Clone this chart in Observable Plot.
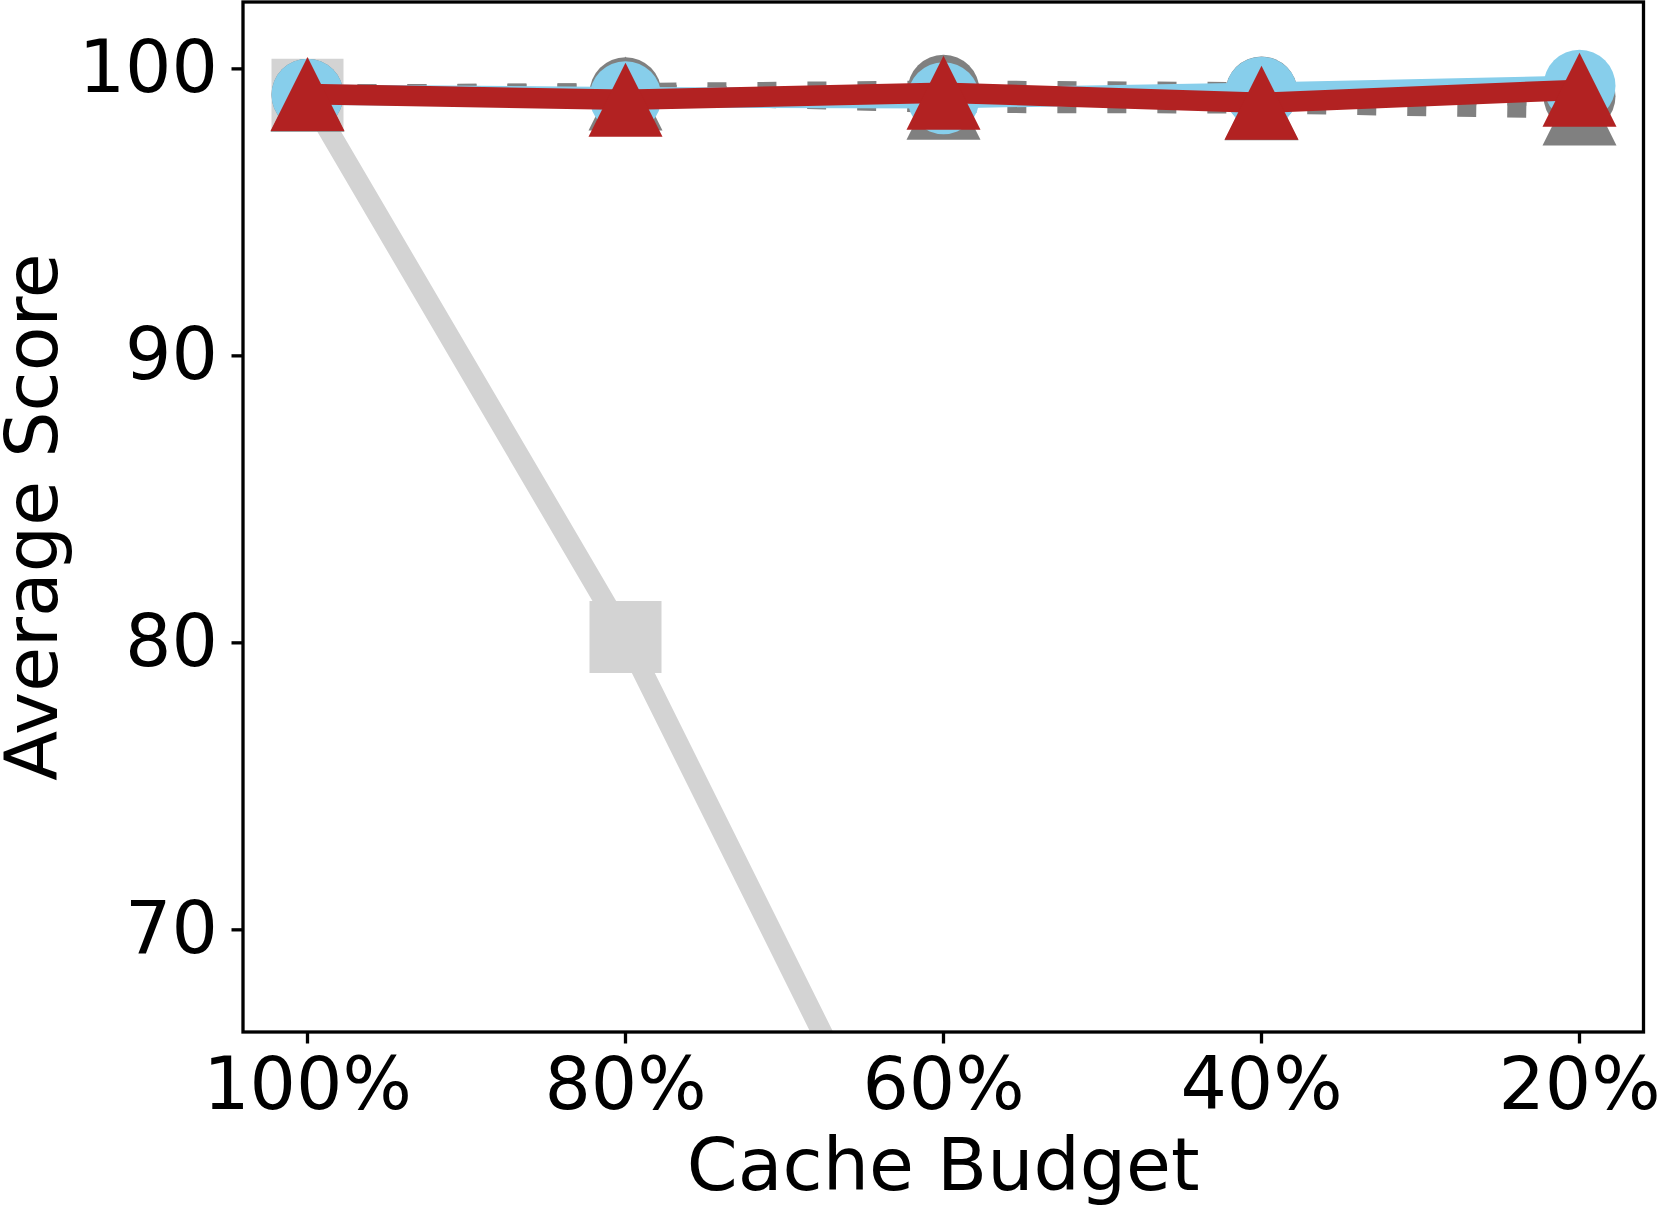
<!DOCTYPE html>
<html>
<head>
<meta charset="utf-8">
<script src="https://cdn.jsdelivr.net/npm/d3@7"></script>
<script src="https://cdn.jsdelivr.net/npm/@observablehq/plot@0.6"></script>
<style>
  html, body { margin: 0; padding: 0; background: #ffffff; }
  #chart { width: 1661px; height: 1207px; }
</style>
</head>
<body>
<div id="chart"></div>
<script>
// ---- data ----
const budgets = ["100%", "80%", "60%", "40%", "20%"];
const yTicks = [70, 80, 90, 100];
const fullCacheScores = [99.1, 80.2, 57.9, null, null];      // light gray, squares
const grayCircleScores = [99.1, 99.15, 99.24, 99.18, 99.05];  // gray dotted, circles
const grayTriangleScores = [99.1, 99.14, 98.82, 98.8, 98.62]; // gray dotted, triangles
const blueScores = [99.1, 99.01, 98.98, 99.17, 99.41];        // skyblue, circles
const redScores = [99.12, 98.92, 99.17, 98.82, 99.27];        // firebrick, triangles
const xLabel = "Cache Budget";
const yLabel = "Average Score";

const rows = (vals) => budgets.map((b, i) => ({budget: b, score: vals[i]}));

// matplotlib-like marker shapes (bbox centred)
const triangleUp = {draw(ctx, size) {
  const h = Math.sqrt(size / Math.PI);
  ctx.moveTo(0, -h); ctx.lineTo(h, h); ctx.lineTo(-h, h); ctx.closePath();
}};
const squareSym = {draw(ctx, size) {
  const h = Math.sqrt(size / Math.PI);
  ctx.moveTo(-h, -h); ctx.lineTo(h, -h); ctx.lineTo(h, h); ctx.lineTo(-h, h); ctx.closePath();
}};

const LW = 20.5;
const FS = 73;

function series(vals, color, symbol, r, dashed) {
  const d = rows(vals);
  return [
    Plot.line(d, {x: "budget", y: "score", stroke: color, strokeWidth: LW,
      strokeDasharray: dashed ? "19,31" : null,
      strokeLinecap: dashed ? "butt" : "square", strokeLinejoin: "round", clip: true}),
    Plot.dot(d.filter(v => v.score != null), {x: "budget", y: "score", symbol, r, fill: color, stroke: "none", clip: true})
  ];
}

const chart = Plot.plot({
  width: 1661,
  height: 1207,
  marginLeft: 242.5,
  marginRight: 18,
  marginTop: 1.5,
  marginBottom: 175.5,
  style: {fontFamily: "'DejaVu Sans', sans-serif", fontSize: FS + "px", color: "black", background: "white"},
  x: {type: "point", domain: budgets, padding: 0.2},
  y: {domain: [66.44, 102.33]},
  marks: [
    ...series(fullCacheScores, "#d3d3d3", squareSym, 36, false),
    ...series(grayCircleScores, "#808080", "circle", 36, true),
    ...series(grayTriangleScores, "#808080", triangleUp, 37, true),
    ...series(blueScores, "#87ceeb", "circle", 36, false),
    ...series(redScores, "#b22222", triangleUp, 37, false),
    Plot.frame({stroke: "black", strokeWidth: 3.3}),
    Plot.axisY({ticks: yTicks, tickSize: 11, tickPadding: 14, strokeWidth: 3.3, fontSize: FS, label: null}),
    Plot.axisX({tickSize: 12, tickPadding: 13, strokeWidth: 3.3, fontSize: FS, label: null}),
    Plot.text([xLabel], {frameAnchor: "bottom", text: d => d, dy: 158, lineAnchor: "bottom", fontSize: FS, fill: "black"}),
    Plot.text([yLabel], {frameAnchor: "left", text: d => d, rotate: -90, dx: -186, lineAnchor: "bottom", textAnchor: "middle", fontSize: FS, fill: "black"})
  ]
});
document.getElementById("chart").appendChild(chart);
</script>
</body>
</html>
